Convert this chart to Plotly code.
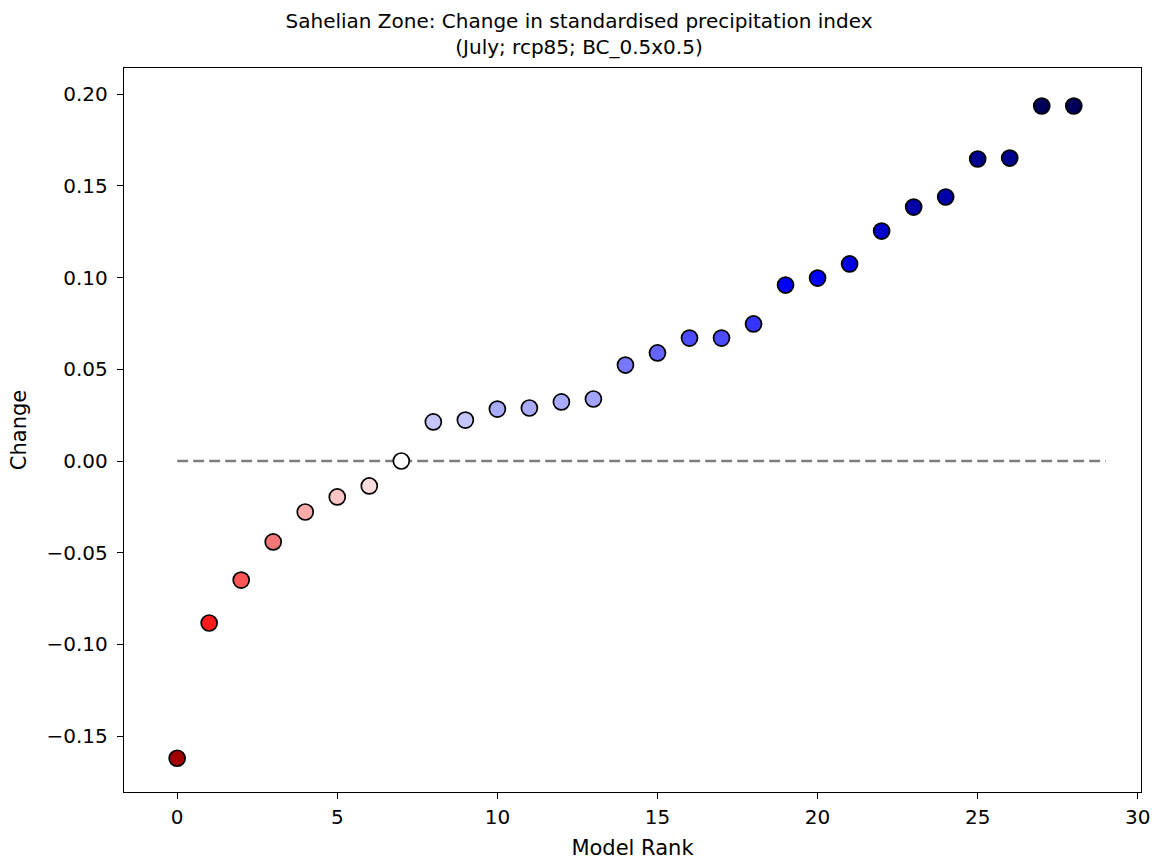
import plotly.graph_objects as go

# Datos
rango = list(range(29))
cambio = [-0.162, -0.0883, -0.0649, -0.0441, -0.0278, -0.0196, -0.0136, 0.0,
          0.0213, 0.0223, 0.0283, 0.0289, 0.0322, 0.0338, 0.0523, 0.0589,
          0.0670, 0.0670, 0.0747, 0.0959, 0.0997, 0.1074, 0.1253, 0.1384,
          0.1439, 0.1646, 0.1651, 0.1935, 0.1935]
colores = ["#a00000", "#ff1a1a", "#ff5555", "#f27777", "#ffaaaa", "#ffc4c4",
           "#ffdcdc", "#ffffff", "#c6c6ff", "#c6c6ff", "#aaaaff", "#aaaaff",
           "#aaaaff", "#a4a4ff", "#7878ff", "#6464ff", "#4c4cff", "#4c4cff",
           "#3434ff", "#0000ff", "#0000ff", "#0000e8", "#0000cc", "#0000aa",
           "#0000aa", "#00008e", "#00008e", "#000058", "#000058"]
linea_cero_x = [0, 29]
linea_cero_y = [0, 0]

fig = go.Figure()

fig.add_trace(go.Scatter(
    x=linea_cero_x, y=linea_cero_y, mode="lines",
    line=dict(color="#808080", width=2.5, dash="11px,5px"),
    hoverinfo="skip", showlegend=False
))

fig.add_trace(go.Scatter(
    x=rango, y=cambio, mode="markers",
    marker=dict(size=16, color=colores, line=dict(color="black", width=1.7)),
    showlegend=False
))

eje = dict(
    showgrid=False, zeroline=False, showline=True, linecolor="black",
    linewidth=1.4, mirror=True, ticks="outside", ticklen=6, tickwidth=1.3,
    tickcolor="black", tickfont=dict(size=20, color="black"),
)

fig.update_layout(
    width=1158, height=861,
    paper_bgcolor="white", plot_bgcolor="white",
    font=dict(family="DejaVu Sans", color="black"),
    margin=dict(l=124, r=17, t=68, b=69, autoexpand=False),
    title=dict(
        text="Sahelian Zone: Change in standardised precipitation index<br>(July; rcp85; BC_0.5x0.5)",
        x=0.5, xanchor="center", y=1 - 28 / 861, yanchor="top",
        font=dict(size=20, color="black"),
    ),
    xaxis=dict(eje, range=[-1.66, 30.1], tickvals=[0, 5, 10, 15, 20, 25, 30],
               ticklabelstandoff=1,
               title=dict(text="Model Rank", font=dict(size=21), standoff=12)),
    yaxis=dict(eje, range=[-0.1804, 0.2142], tickformat=".2f",
               tickvals=[-0.15, -0.10, -0.05, 0.0, 0.05, 0.10, 0.15, 0.20],
               ticklabelstandoff=5,
               title=dict(text="Change", font=dict(size=21), standoff=14)),
)

fig.write_html("out.html", config={"displayModeBar": False},
               post_script="document.body.style.margin='0';")
